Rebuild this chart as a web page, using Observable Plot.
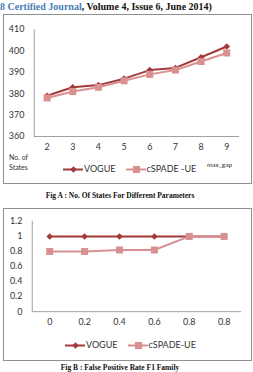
<!DOCTYPE html>
<html><head><meta charset="utf-8">
<script src="https://cdn.jsdelivr.net/npm/d3@7"></script>
<script src="https://cdn.jsdelivr.net/npm/@observablehq/plot@0.6"></script>
<style>
body{margin:0;background:#fff;width:253px;height:372px;overflow:hidden;position:relative;font-family:Lato,sans-serif}
.abs{position:absolute;white-space:nowrap}
.box{position:absolute;border:1px solid #8f8f8f;box-sizing:border-box;background:#fff}
.box svg{position:absolute;left:0;top:0}
.hdr{font:bold 10px "Liberation Serif",serif;line-height:12px;left:0;top:1px;color:#111}
.cap{font:bold 7.5px "Liberation Serif",serif;line-height:9px;text-align:center;color:#111}
.leg{display:flex;align-items:center;font:9px Lato,sans-serif;color:#333;line-height:10px}
.leg svg{display:block}
.ttl{font:7px Lato,sans-serif;color:#333;line-height:8px}
</style></head><body>
<div class="abs hdr"><span style="color:#4a7ebb">8 Certified Journal</span>, Volume 4, Issue 6, June 2014)</div>
<div id="boxA" class="box" style="left:3px;top:14px;width:249px;height:170px"></div>
<div class="abs cap" style="left:0;width:240px;top:191px">Fig A : No. Of States For Different Parameters</div>
<div id="boxB" class="box" style="left:3px;top:208px;width:249px;height:153px"></div>
<div class="abs cap" style="left:0;width:240px;top:363px">Fig B : False Positive Rate F1 Family</div>
<script>
// ---- data ----
const xLabelsA = ["2","3","4","5","6","7","8","9"];
const vogueA = [379, 383, 384, 387, 391, 392, 397, 402];
const cspadeA = [378, 381, 383, 386, 389, 391, 395, 399];
const yTicksA = [360, 370, 380, 390, 400, 410];
const seriesA = ["VOGUE", "cSPADE -UE"];
const yTitleA = ["No. of", "States"];
const xTitleA = "max_gap";

const xLabelsB = ["0","0.2","0.4","0.6","0.8","0.8"];
const vogueB = [1, 1, 1, 1, 1, 1];
const cspadeB = [0.8, 0.8, 0.82, 0.82, 1, 1];
const yTicksB = [0, 0.2, 0.4, 0.6, 0.8, 1, 1.2];
const seriesB = ["VOGUE", "cSPADE-UE"];

const colors = ["#a3393b", "#d99090"];
const symbols = ["diamond2", "square"];
const symR = [3, 4];

function chart(opts) {
  const {labels, series, yTicks, width, height, mt, mr, mb, ml} = opts;
  const n = labels.length;
  const xDom = [-0.5, n - 0.5];
  const yDom = [yTicks[0], yTicks[yTicks.length - 1]];
  const marks = [
    Plot.ruleY([yDom[0]], {stroke: "#a0a0a0"}),
    Plot.ruleX([xDom[0]], {stroke: "#a0a0a0"})
  ];
  series.forEach((vals, k) => {
    const data = vals.map((v, i) => ({i, v}));
    marks.push(Plot.line(data, {x: "i", y: "v", stroke: colors[k], strokeWidth: 2}));
    marks.push(Plot.dot(data, {x: "i", y: "v", symbol: symbols[k], r: symR[k], fill: colors[k], stroke: null}));
  });
  return Plot.plot({
    width, height, marginTop: mt, marginRight: mr, marginBottom: mb, marginLeft: ml,
    x: {type: "linear", domain: xDom, ticks: labels.map((d, i) => i), tickFormat: i => labels[i],
        tickSize: 0, tickPadding: 7, label: null},
    y: {domain: yDom, ticks: yTicks, tickFormat: d => String(d), tickSize: 0, tickPadding: 10, label: null},
    style: {fontFamily: "Lato, sans-serif", fontSize: "9px", color: "#333", background: "transparent", overflow: "visible"},
    marks
  });
}

function legend(names, left, top) {
  const div = document.createElement("div");
  div.className = "abs leg";
  div.style.left = left + "px";
  div.style.top = top + "px";
  names.forEach((name, k) => {
    const item = document.createElement("div");
    item.style.display = "flex";
    item.style.alignItems = "center";
    if (k > 0) item.style.marginLeft = "10px";
    const sw = Plot.plot({
      width: 20, height: 10, margin: 0, axis: null,
      x: {domain: [0, 1]}, y: {domain: [0, 1]},
      style: {background: "transparent", overflow: "visible"},
      marks: [
        Plot.ruleY([0.5], {stroke: colors[k], strokeWidth: 2}),
        Plot.dot([[0.5, 0.5]], {symbol: symbols[k], r: symR[k], fill: colors[k], stroke: null})
      ]
    });
    const t = document.createElement("span");
    t.textContent = name;
    t.style.marginLeft = "1px";
    item.appendChild(sw);
    item.appendChild(t);
    div.appendChild(item);
  });
  return div;
}

const boxA = document.getElementById("boxA");
boxA.appendChild(chart({labels: xLabelsA, series: [vogueA, cspadeA], yTicks: yTicksA,
  width: 249, height: 169, mt: 14, mr: 12, mb: 47, ml: 30}));
const boxB = document.getElementById("boxB");
boxB.appendChild(chart({labels: xLabelsB, series: [vogueB, cspadeB], yTicks: yTicksB,
  width: 249, height: 152, mt: 12, mr: 10, mb: 49, ml: 28}));

document.body.appendChild(legend(seriesA, 63, 164));
document.body.appendChild(legend(seriesB, 65, 340));

const t1 = document.createElement("div");
t1.className = "abs ttl";
t1.style.left = "9px"; t1.style.top = "152px";
t1.innerHTML = yTitleA.join("<br>");
t1.style.lineHeight = "10px";
document.body.appendChild(t1);
const t2 = document.createElement("div");
t2.className = "abs ttl";
t2.style.left = "207px"; t2.style.top = "161px"; t2.style.fontSize = "6.5px";
t2.textContent = xTitleA;
document.body.appendChild(t2);
</script>
</body></html>
